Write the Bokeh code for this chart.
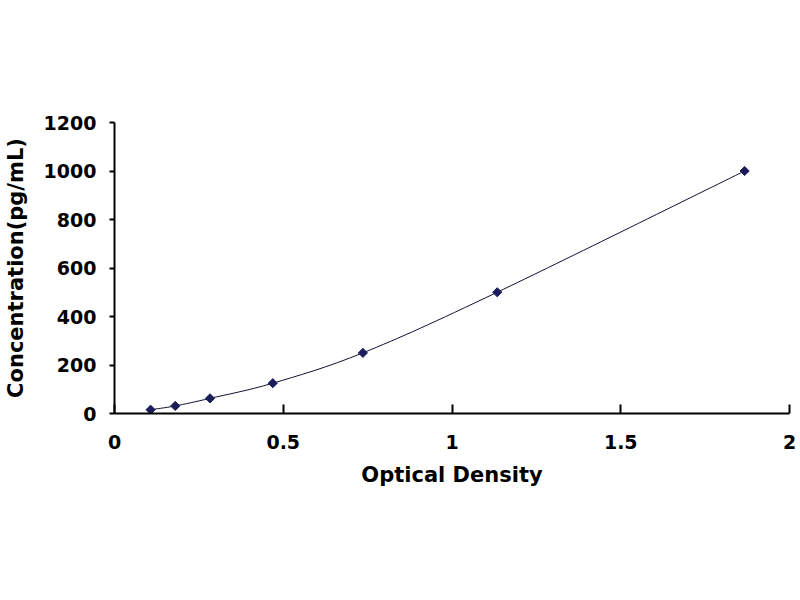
import numpy as np
from bokeh.plotting import figure
from bokeh.models import Range1d, FixedTicker, CustomJSTickFormatter
from bokeh.embed import file_html
from bokeh.resources import INLINE

# Data
optical_density = [0.107, 0.180, 0.283, 0.469, 0.736, 1.134, 1.867]
concentration = [15.6, 31.25, 62.5, 125, 250, 500, 1000]
x_ticks = [0, 0.5, 1, 1.5, 2]
y_ticks = [0, 200, 400, 600, 800, 1000, 1200]

FONT = "DejaVu Sans"

p = figure(width=797, height=584, output_backend="svg", toolbar_location=None,
           x_range=Range1d(0, 2), y_range=Range1d(0, 1200),
           min_border_left=114, min_border_right=8, min_border_top=122,
           min_border_bottom=171)
p.outline_line_color = None
p.grid.visible = False
p.background_fill_color = "white"
p.border_fill_color = "white"

# Smooth curve through the points (Catmull-Rom style Bezier segments)
xs = np.array(optical_density, dtype=float)
ys = np.array(concentration, dtype=float)
xp = np.concatenate([[xs[0]], xs, [xs[-1]]])
yp = np.concatenate([[ys[0]], ys, [ys[-1]]])
n = len(xs)
x0 = xs[:-1]; y0 = ys[:-1]; x1 = xs[1:]; y1 = ys[1:]
cx0 = xs[:-1] + (xp[2:n+1] - xp[0:n-1]) / 6.0
cy0 = ys[:-1] + (yp[2:n+1] - yp[0:n-1]) / 6.0
cx1 = xs[1:] - (xp[3:n+2] - xp[1:n]) / 6.0
cy1 = ys[1:] - (yp[3:n+2] - yp[1:n]) / 6.0
p.bezier(x0=x0, y0=y0, x1=x1, y1=y1, cx0=cx0, cy0=cy0, cx1=cx1, cy1=cy1,
         line_color="#111133", line_width=1)

p.scatter(optical_density, concentration, marker="square", size=6.5,
          angle=np.pi / 4, fill_color="#1c1c5a", line_color="#1c1c5a")

fmt = CustomJSTickFormatter(code="return String(tick);")

xa = p.xaxis[0]
xa.ticker = FixedTicker(ticks=x_ticks)
xa.formatter = fmt
xa.axis_label = "Optical Density"
xa.major_tick_in = 9
xa.major_tick_out = 0
xa.minor_tick_in = 0
xa.minor_tick_out = 0
xa.major_label_standoff = 21
xa.axis_label_standoff = 11

ya = p.yaxis[0]
ya.ticker = FixedTicker(ticks=y_ticks)
ya.formatter = fmt
ya.axis_label = "Concentration(pg/mL)"
ya.major_tick_in = 0
ya.major_tick_out = 5
ya.minor_tick_in = 0
ya.minor_tick_out = 0
ya.major_label_standoff = 13
ya.axis_label_standoff = 13

for ax in (xa, ya):
    ax.axis_line_color = "black"
    ax.axis_line_width = 2
    ax.major_tick_line_color = "black"
    ax.major_tick_line_width = 2
    ax.major_label_text_font = FONT
    ax.major_label_text_font_style = "bold"
    ax.major_label_text_font_size = "19px"
    ax.major_label_text_color = "black"
    ax.axis_label_text_font = FONT
    ax.axis_label_text_font_style = "bold"
    ax.axis_label_text_font_size = "21px"
    ax.axis_label_text_color = "black"

open("out.html", "w").write(file_html(p, INLINE))
